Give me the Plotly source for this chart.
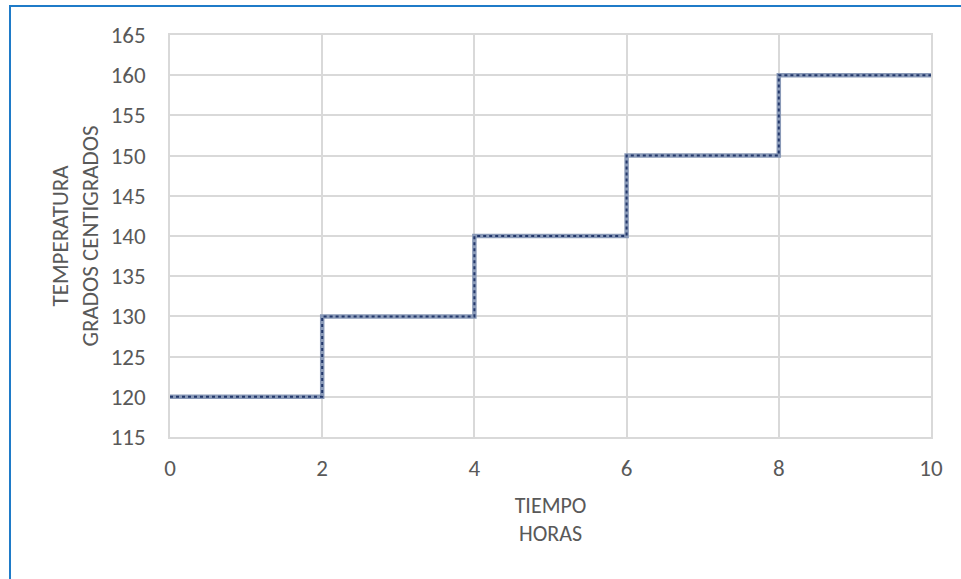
import plotly.graph_objects as go

# Temperature held constant over each 2-hour interval, then stepped up
tiempo_horas = [0, 2, 4, 6, 8, 10]
temperatura = [120, 130, 140, 150, 160, 160]

x_ticks = [0, 2, 4, 6, 8, 10]
y_ticks = [115, 120, 125, 130, 135, 140, 145, 150, 155, 160, 165]

FONT = "Carlito, Calibri, 'Liberation Sans Narrow', 'Open Sans', sans-serif"
GRID = "#D9D9D9"
TEXT = "#595959"

fig = go.Figure()
fig.add_trace(go.Scatter(
    x=tiempo_horas, y=temperatura, mode="lines", line_shape="hv",
    line=dict(color="#8A9AB8", width=4.5), hoverinfo="skip", showlegend=False,
))
fig.add_trace(go.Scatter(
    x=tiempo_horas, y=temperatura, mode="lines", line_shape="hv",
    line=dict(color="#23386B", width=2, dash="dot"), showlegend=False,
))

L, R, T, B = 170, 30, 35, 142
W, H = 961, 579
pw, ph = W - L - R, H - T - B

def px_x(p):
    return (p - L) / pw

def px_y(p):
    return (H - B - p) / ph

# Blue frame around the chart (left and top edges visible)
fig.add_shape(type="rect", xref="paper", yref="paper",
              x0=px_x(10), x1=px_x(W + 20), y0=px_y(H + 20), y1=px_y(6),
              line=dict(color="#1F7BC8", width=2), fillcolor="rgba(0,0,0,0)",
              layer="below")

fig.update_layout(
    width=W, height=H,
    margin=dict(l=L, r=R, t=T, b=B),
    paper_bgcolor="white", plot_bgcolor="white",
    font=dict(family=FONT, size=23, color=TEXT),
    xaxis=dict(
        range=[0, 10], tickvals=x_ticks, showgrid=True, gridcolor=GRID, gridwidth=1.5,
        zeroline=False, showline=True, linecolor=GRID, linewidth=1.5, mirror=True,
        ticks="", ticklabelstandoff=10, tickfont=dict(size=23),
        title=dict(text="TIEMPO<br>HORAS", standoff=16, font=dict(size=22, color=TEXT)),
    ),
    yaxis=dict(
        range=[115, 165], tickvals=y_ticks, showgrid=True, gridcolor=GRID, gridwidth=1.5,
        zeroline=False, showline=True, linecolor=GRID, linewidth=1.5, mirror=True,
        ticks="", ticklabelstandoff=18, tickfont=dict(size=23),
        title=dict(text="TEMPERATURA<br>GRADOS CENTIGRADOS", standoff=6,
                   font=dict(size=23, color=TEXT)),
    ),
)

fig.write_html("out.html")
